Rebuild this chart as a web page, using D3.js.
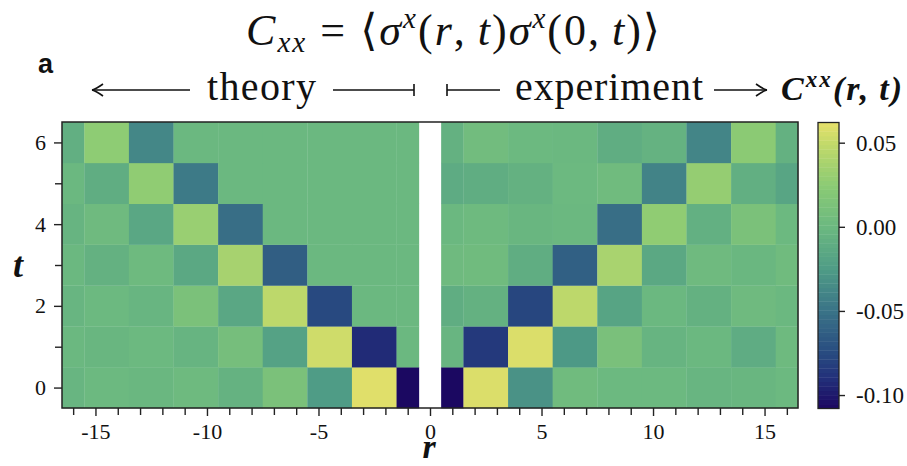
<!DOCTYPE html>
<html>
<head>
<meta charset="utf-8">
<script src="https://cdn.jsdelivr.net/npm/d3@7"></script>
<style>
  html, body { margin: 0; padding: 0; background: #fff; }
  svg { display: block; }
</style>
</head>
<body>
<svg id="chart" width="907" height="466"></svg>
<script>
// Time steps (rows) and the r-bins (columns) of the correlation map
const times = [0, 1, 2, 3, 4, 5, 6];
const theoryBins = [[-16.5, -15.5], [-15.5, -13.5], [-13.5, -11.5], [-11.5, -9.5], [-9.5, -7.5],
                    [-7.5, -5.5], [-5.5, -3.5], [-3.5, -1.5], [-1.5, -0.5]];
const experimentBins = [[0.5, 1.5], [1.5, 3.5], [3.5, 5.5], [5.5, 7.5], [7.5, 9.5],
                        [9.5, 11.5], [11.5, 13.5], [13.5, 15.5], [15.5, 16.5]];

// C^xx(r,t), one row per time step, columns follow the bins above
const theory = [
  [-0.003, 0.001, -0.001, 0.002, -0.005, 0.012, -0.025, 0.060, -0.107],
  [0.000, -0.002, 0.001, -0.004, 0.008, -0.020, 0.054, -0.092, 0.000],
  [-0.003, 0.001, -0.003, 0.012, -0.015, 0.047, -0.076, 0.000, 0.000],
  [0.000, -0.006, 0.002, -0.014, 0.037, -0.063, 0.000, 0.000, 0.000],
  [-0.004, 0.003, -0.015, 0.031, -0.053, 0.000, 0.000, 0.000, 0.000],
  [0.000, -0.010, 0.027, -0.046, 0.000, 0.000, 0.000, 0.000, 0.000],
  [-0.008, 0.026, -0.038, 0.000, 0.000, 0.000, 0.000, 0.000, 0.000]
];
const experiment = [
  [-0.107, 0.058, -0.031, 0.004, 0.001, 0.001, -0.003, -0.002, 0.001],
  [-0.003, -0.085, 0.058, -0.027, 0.011, -0.004, 0.000, -0.011, 0.002],
  [-0.010, -0.006, -0.078, 0.047, -0.018, 0.000, -0.006, 0.003, 0.000],
  [0.003, 0.004, -0.010, -0.062, 0.038, -0.014, 0.003, -0.001, 0.004],
  [0.000, 0.002, -0.002, 0.000, -0.053, 0.027, -0.007, 0.012, 0.001],
  [-0.012, -0.010, -0.006, 0.001, 0.004, -0.040, 0.029, -0.008, -0.017],
  [-0.006, 0.005, 0.001, 0.000, -0.010, -0.005, -0.039, 0.024, -0.006]
];

const xTicks = [-15, -10, -5, 0, 5, 10, 15];
const yTicks = [0, 2, 4, 6];
const cbarTicks = [-0.10, -0.05, 0.00, 0.05];
const colorRange = [-0.108, 0.062];

// Colormap stops (value -> colour)
const cmapValues = [-0.108, -0.09, -0.075, -0.05, -0.025, 0.0, 0.025, 0.05, 0.062];
const cmapColors = ["#1b0660", "#22307a", "#284b80", "#3a7387", "#4f9c86",
                    "#6bb880", "#8ccb74", "#c4da6a", "#e6e06a"];

const svg = d3.select("#chart");
const SERIF = '"Liberation Serif", "DejaVu Serif", serif';
const ink = "#111";

const plot = { left: 62, right: 798, top: 122, bottom: 408 };
const x = d3.scaleLinear().domain([-16.5, 16.5]).range([plot.left, plot.right]);
const y = d3.scaleLinear().domain([-0.5, 6.5]).range([plot.bottom, plot.top]);
const color = d3.scaleLinear().domain(cmapValues).range(cmapColors)
  .interpolate(d3.interpolateRgb).clamp(true);

// Heatmap cells
function cells(bins, values) {
  const out = [];
  times.forEach((t, i) => bins.forEach((b, j) => out.push({ t, r0: b[0], r1: b[1], v: values[i][j] })));
  return out;
}
const allCells = cells(theoryBins, theory).concat(cells(experimentBins, experiment));
svg.append("g").selectAll("rect").data(allCells).join("rect")
  .attr("x", d => x(d.r0))
  .attr("width", d => x(d.r1) - x(d.r0) + 0.3)
  .attr("y", d => y(d.t + 0.5))
  .attr("height", d => y(d.t - 0.5) - y(d.t + 0.5) + 0.3)
  .attr("fill", d => color(d.v));

// Axes with major and minor ticks
svg.append("g").attr("transform", `translate(0,${plot.bottom})`)
  .call(d3.axisBottom(x).tickValues(xTicks).tickFormat(d => String(d)).tickSize(8).tickPadding(7));
svg.append("g").attr("transform", `translate(0,${plot.bottom})`)
  .call(d3.axisBottom(x).tickValues(d3.range(-16, 17).filter(v => v % 5 !== 0)).tickFormat("").tickSize(7));
svg.append("g").attr("transform", `translate(${plot.left},0)`)
  .call(d3.axisLeft(y).tickValues(yTicks).tickFormat(d => String(d)).tickSize(8).tickPadding(8));
svg.append("g").attr("transform", `translate(${plot.left},0)`)
  .call(d3.axisLeft(y).tickValues([1, 3, 5]).tickFormat("").tickSize(7));

svg.selectAll(".domain").remove();
svg.selectAll(".tick line").attr("stroke", "#222").attr("stroke-width", 1.4);
svg.selectAll(".tick text").style("font-family", SERIF).style("font-size", "22px").attr("fill", ink);

// Frame
svg.append("rect")
  .attr("x", plot.left).attr("y", plot.top)
  .attr("width", plot.right - plot.left).attr("height", plot.bottom - plot.top)
  .attr("fill", "none").attr("stroke", "#222").attr("stroke-width", 1.5);

// Colorbar
const cb = { left: 818, width: 21, top: 122.5, bottom: 408.5 };
const cy = d3.scaleLinear().domain(colorRange).range([cb.bottom, cb.top]);
const nBands = 64;
const bandVals = d3.range(nBands).map(i => colorRange[0] + (i + 0.5) * (colorRange[1] - colorRange[0]) / nBands);
const bandH = (cb.bottom - cb.top) / nBands;
svg.append("g").selectAll("rect").data(bandVals).join("rect")
  .attr("x", cb.left).attr("width", cb.width)
  .attr("y", d => cy(d) - bandH / 2).attr("height", bandH + 0.4)
  .attr("fill", d => color(d));
svg.append("rect")
  .attr("x", cb.left).attr("y", cb.top).attr("width", cb.width).attr("height", cb.bottom - cb.top)
  .attr("fill", "none").attr("stroke", "#222").attr("stroke-width", 1.3);
const cbAxis = svg.append("g").attr("transform", `translate(${cb.left + cb.width},0)`)
  .call(d3.axisRight(cy).tickValues(cbarTicks).tickFormat(d => d3.format(".2f")(d).replace("−", "-"))
    .tickSize(6).tickPadding(11));
cbAxis.select(".domain").remove();
cbAxis.selectAll(".tick line").attr("stroke", "#222").attr("stroke-width", 1.4);
cbAxis.selectAll(".tick text").style("font-family", SERIF).style("font-size", "23px").attr("fill", ink);

// Axis titles
svg.append("text").attr("x", 18).attr("y", 277).attr("text-anchor", "middle")
  .style("font-family", SERIF).style("font-style", "italic").style("font-weight", "bold")
  .style("font-size", "36px").attr("fill", ink).text("t");
svg.append("text").attr("x", 429).attr("y", 458).attr("text-anchor", "middle")
  .style("font-family", SERIF).style("font-style", "italic").style("font-weight", "bold")
  .style("font-size", "34px").attr("fill", ink).text("r");

// Panel letter
svg.append("text").attr("x", 38).attr("y", 73)
  .style("font-family", '"Liberation Sans", Arial, sans-serif').style("font-weight", "bold")
  .style("font-size", "27px").attr("fill", ink).text("a");

// Title: C_xx = <σ^x(r,t) σ^x(0,t)>
const title = svg.append("text").attr("x", 453).attr("y", 45).attr("text-anchor", "middle")
  .attr("textLength", 414).attr("lengthAdjust", "spacing")
  .style("font-family", SERIF).style("font-size", "44px").attr("fill", ink);
const parts = [
  { s: "C", it: true },
  { s: "xx", it: true, sub: true },
  { s: " = ⟨" },
  { s: "σ", it: true },
  { s: "x", it: true, sup: true },
  { s: "(" }, { s: "r", it: true }, { s: ",\u2009" }, { s: "t", it: true }, { s: ")" },
  { s: "σ", it: true },
  { s: "x", it: true, sup: true },
  { s: "(0,\u2009" }, { s: "t", it: true }, { s: ")⟩" }
];
let shift = 0;
parts.forEach(p => {
  const target = p.sub ? 7 : p.sup ? -17 : 0;
  title.append("tspan")
    .attr("dy", target - shift)
    .style("font-style", p.it ? "italic" : "normal")
    .style("font-size", (p.sub || p.sup) ? "29px" : "44px")
    .text(p.s);
  shift = target;
});

// Second header line: arrows, "theory", "experiment", C^xx(r,t)
const hy = 90;
const hdr = svg.append("g").attr("stroke", ink).attr("stroke-width", 1.6).attr("fill", "none");
function arrowHead(tipX, dir) {
  hdr.append("path").attr("d",
    `M${tipX + dir * 11},${hy - 6} Q${tipX + dir * 4},${hy - 1} ${tipX},${hy}` +
    ` M${tipX + dir * 11},${hy + 6} Q${tipX + dir * 4},${hy + 1} ${tipX},${hy}`);
}
hdr.append("line").attr("x1", 92).attr("x2", 190).attr("y1", hy).attr("y2", hy);
arrowHead(92, 1);
hdr.append("line").attr("x1", 333).attr("x2", 414).attr("y1", hy).attr("y2", hy);
hdr.append("line").attr("x1", 414).attr("x2", 414).attr("y1", hy - 6).attr("y2", hy + 6);
hdr.append("line").attr("x1", 447).attr("x2", 500).attr("y1", hy).attr("y2", hy);
hdr.append("line").attr("x1", 447).attr("x2", 447).attr("y1", hy - 6).attr("y2", hy + 6);
hdr.append("line").attr("x1", 714).attr("x2", 767).attr("y1", hy).attr("y2", hy);
arrowHead(767, -1);

svg.append("text").attr("x", 207).attr("y", 100)
  .style("font-family", SERIF).style("font-size", "40px").attr("fill", ink)
  .attr("textLength", 109).attr("lengthAdjust", "spacing").text("theory");
svg.append("text").attr("x", 515).attr("y", 100)
  .style("font-family", SERIF).style("font-size", "40px").attr("fill", ink)
  .attr("textLength", 188).attr("lengthAdjust", "spacing").text("experiment");

const cxx = svg.append("text").attr("x", 781).attr("y", 100)
  .attr("textLength", 121).attr("lengthAdjust", "spacing")
  .style("font-family", SERIF).style("font-size", "34px").style("font-weight", "bold")
  .style("font-style", "italic").attr("fill", ink);
cxx.append("tspan").text("C");
cxx.append("tspan").attr("dy", -13).style("font-size", "23px").text("xx");
cxx.append("tspan").attr("dy", 13).text("(r,\u2009t)");
</script>
</body>
</html>
